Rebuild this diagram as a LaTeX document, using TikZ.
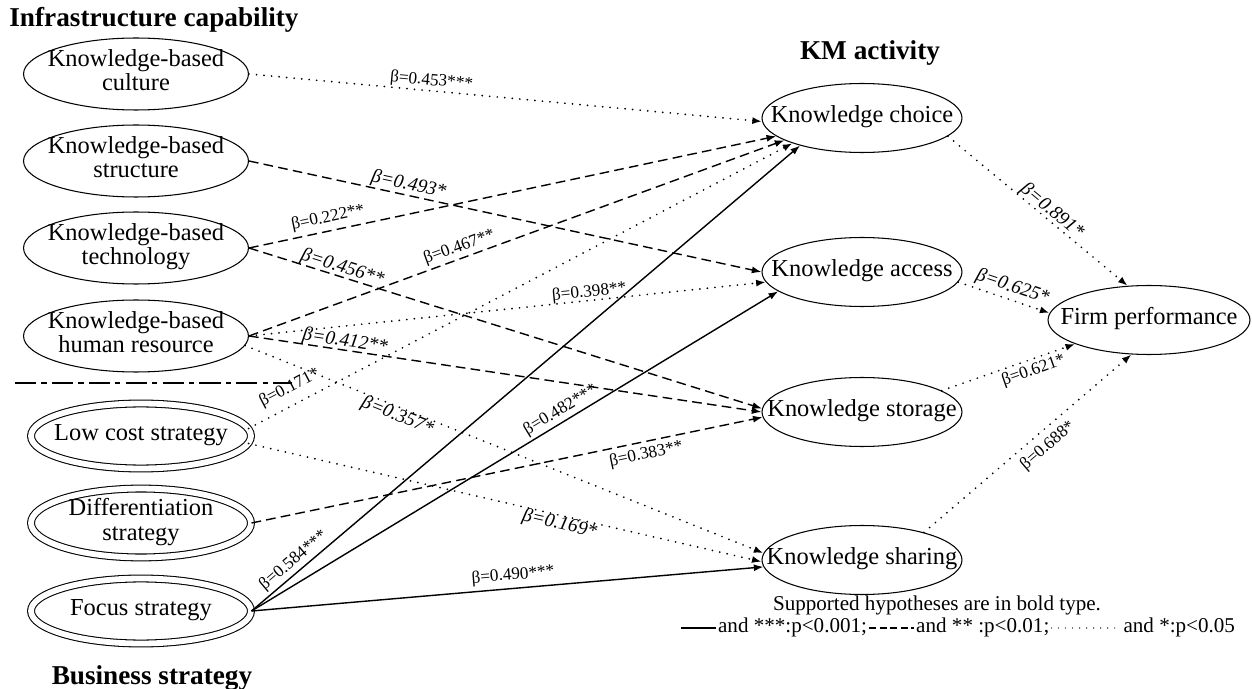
\documentclass[tikz,border=0pt]{standalone}
\usepackage{fontspec}
\setmainfont{Liberation Serif}
\usetikzlibrary{shapes.geometric,arrows.meta,positioning}
\newcommand{\slimtext}[1]{\makebox[0pt]{\begin{tabular}{@{}c@{}}#1\end{tabular}}}
\begin{document}
\begin{tikzpicture}[x=0.02cm,y=-0.02cm,
    capab/.style={ellipse,draw,line width=0.6pt,inner sep=0pt,minimum width=4.5cm,minimum height=1.44cm,font=\fontsize{13.9}{13.8}\selectfont},
    strat/.style={capab,double,double distance=3.3pt,minimum width=4.4cm,minimum height=1.3cm},
    act/.style={capab,minimum width=4cm,minimum height=1.38cm},
    grp/.style={anchor=base,font=\fontsize{15.5}{18}\selectfont\bfseries},
    sig/.style={line width=0.8pt,-{Latex[length=5.5pt,width=4pt]}},
    sigd/.style={sig,dash pattern=on 5.5pt off 3pt},
    sigo/.style={sig,line cap=round,line width=1.1pt,dash pattern=on 0pt off 4.3pt},
    lab/.style={sloped,inner sep=0.5pt,font=\fontsize{9.8}{11}\selectfont},
    labi/.style={lab,font=\fontsize{11}{12}\selectfont\itshape},
    legtxt/.style={anchor=west,inner sep=1pt,text height=8pt,text depth=2.5pt,font=\fontsize{12}{14}\selectfont}]
    \useasboundingbox (0,0) rectangle (1252,689);

    \node[grp] (infra) at (154,27) {Infrastructure capability};
    \node[capab] (cult) at (136,74) {\slimtext{Knowledge-based\\culture}};
    \node[capab] (stru) at (136,161) {\slimtext{Knowledge-based\\structure}};
    \node[capab] (tech) at (136,248) {\slimtext{Knowledge-based\\technology}};
    \node[capab] (hres) at (136,336) {\slimtext{Knowledge-based\\human resource}};
    \coordinate (sepA) at (15,383);
    \coordinate (sepB) at (292,383);
    \draw[line width=1pt,dash pattern=on 12pt off 3pt on 3pt off 3pt] (sepA) -- (sepB);
    \node[strat] (low) at (141,436) {\slimtext{Low cost strategy}};
    \node[strat] (diff) at (141,523) {\slimtext{Differentiation\\strategy}};
    \node[strat] (focus) at (141,611) {\slimtext{Focus strategy}};
    \node[grp] (bus) at (152,684) {Business strategy};

    \node[grp] (kma) at (870,60) {KM activity};
    \node[act] (choice) at (862,118) {\slimtext{Knowledge choice}};
    \node[act] (access) at (862,272) {\slimtext{Knowledge access}};
    \node[act] (store) at (862,412) {\slimtext{Knowledge storage}};
    \node[act] (share) at (862,560) {\slimtext{Knowledge sharing}};
    \node[act,minimum width=4.04cm] (firm) at (1149,320) {\slimtext{Firm performance}};

    \draw[sigo] (cult.east) -- (choice.182) node[lab,pos=0.354,above=0pt] {β=0.453***};
    \draw[sigd] (stru.east) -- (access.180) node[labi,pos=0.307,above=0pt] {β=0.493*};
    \draw[sigd] (tech.east) -- (choice.192) node[lab,pos=0.155,above=2pt] {β=0.222**};
    \draw[sigd] (tech.east) -- (store.178) node[labi,pos=0.177,above=-1pt] {β=0.456**};
    \draw[sigd] (hres.east) -- (choice.196) node[lab,pos=0.4,above=1pt] {β=0.467**};
    \draw[sigo] (hres.east) -- (access.186) node[lab,pos=0.66,above=-1pt] {β=0.398**};
    \draw[sigd] (hres.east) -- (store.180) node[labi,pos=0.185,above=-1pt] {β=0.412**};
    \draw[sigo] (hres.-5) -- (share.176) node[labi,pos=0.3,below=-1pt] {β=0.357*};
    \draw[sigo] (low.4) -- (choice.200) node[lab,pos=0.09,above=4pt] {β=0.171*};
    \draw[sigo] (low.-4) -- (share.181) node[labi,pos=0.61,below=-1pt] {β=0.169*};
    \draw[sigd] (diff.east) -- (store.183) node[lab,pos=0.767,below=2pt] {β=0.383**};
    \draw[sig] (focus.east) -- (choice.204) node[lab,pos=0.09,above=1pt] {β=0.584***};
    \draw[sig] (focus.east) -- (access.193) node[lab,pos=0.598,above=1pt] {β=0.482***};
    \draw[sig] (focus.east) -- (share.184) node[lab,pos=0.513,above=2pt] {β=0.490***};
    \draw[sigo] (choice.-12) -- (firm.122) node[labi,pos=0.547,above=-1pt] {β=0.891*};
    \draw[sigo] (access.-6) -- (firm.176) node[labi,pos=0.55,above=1pt] {β=0.625*};
    \draw[sigo] (store.15) -- (firm.198) node[lab,pos=0.66,below=1pt] {β=0.621*};
    \draw[sigo] (share.24) -- (firm.243) node[lab,pos=0.55,below=3pt] {β=0.688*};

    \node[anchor=base,font=\fontsize{12}{14}\selectfont] (note) at (937,610) {Supported hypotheses are in bold type.};
    \node[legtxt] (k3) at (716,628) {and ***:p<0.001;};
    \node[legtxt,right=0.9cm of k3] (k2) {and ** :p<0.01;};
    \node[legtxt,right=1.4cm of k2] (k1) {and *:p<0.05};
    \coordinate[left=0.7cm of k3] (k0);
    \draw[line width=0.7pt] (k0) -- (k3.west);
    \draw[line width=0.7pt,dash pattern=on 4pt off 2pt] (k3.east) -- (k2.west);
    \draw[line width=0.8pt,line cap=round,dash pattern=on 0pt off 4pt] (k2.east) -- (k1.west);
\end{tikzpicture}
\end{document}
